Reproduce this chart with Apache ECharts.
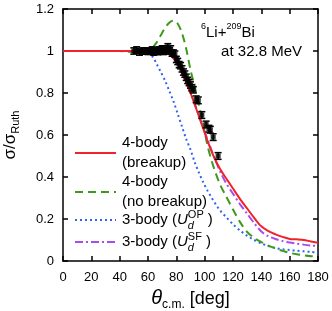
<!DOCTYPE html>
<html><head><meta charset="utf-8">
<script src="https://cdn.jsdelivr.net/npm/echarts@6/dist/echarts.min.js"></script>
<style>html,body{margin:0;padding:0;background:#fff}#c{width:332px;height:311px}</style>
</head><body><div id="c"></div>
<script>
// ---- data ----
const xTicks = [0, 20, 40, 60, 80, 100, 120, 140, 160, 180];
const yTicks = [0, 0.2, 0.4, 0.6, 0.8, 1, 1.2];
const curveAngles = [0,10,20,30,40,45,50,55,60,63,66,69,72,75,78,81,84,87,90,93,96,99,102,105,108,111,115,120,125,130,135,140,145,150,155,160,165,170,175,180];
const breakup = [1,1,1,1,1,1,1,1,1,1,1,1,0.995,0.985,0.965,0.94,0.895,0.85,0.8,0.745,0.688,0.63,0.572,0.52,0.475,0.437,0.395,0.345,0.295,0.25,0.205,0.165,0.142,0.127,0.115,0.105,0.103,0.1,0.093,0.087];
const noBreakup = [1,1,1,1,1,0.997,0.994,0.993,1,1.015,1.04,1.075,1.11,1.135,1.145,1.13,1.085,1.01,0.91,0.83,0.74,0.65,0.55,0.475,0.415,0.362,0.31,0.245,0.185,0.138,0.11,0.09,0.073,0.06,0.048,0.039,0.032,0.027,0.023,0.02];
const threeBodyOP = [1,1,1,1,1,1,1,0.998,0.99,0.975,0.94,0.9,0.86,0.81,0.76,0.7,0.64,0.58,0.53,0.47,0.42,0.375,0.335,0.3,0.268,0.24,0.21,0.175,0.145,0.12,0.1,0.084,0.071,0.062,0.056,0.052,0.049,0.046,0.043,0.04];
const threeBodySF = [1,1,1,1,1,1,1,1,1,1,1,1,0.995,0.985,0.965,0.94,0.895,0.85,0.8,0.748,0.692,0.636,0.578,0.525,0.473,0.425,0.372,0.32,0.27,0.225,0.18,0.14,0.118,0.105,0.095,0.088,0.083,0.078,0.074,0.071];
const expAngles = [50,52,54,56,58,60,62,63,64,65,66,67,68,69,70,71,72,73,74,75,76,77,78,79,80,81,82,83,84,85,86,87,88,89,90,91,92,94,95.5,98,101,103,104,106,109.5];
const expRatio = [1.0,1.005,0.995,1.0,1.0,0.998,1.0,1.005,0.995,1.0,1.0,0.997,1.005,1.0,1.01,0.998,1.005,1.01,1.02,1.0,1.01,0.99,0.99,0.985,0.96,0.95,0.935,0.93,0.915,0.9,0.89,0.875,0.86,0.85,0.838,0.825,0.815,0.77,0.765,0.695,0.65,0.63,0.625,0.59,0.5];
const expErr = [0.015,0.015,0.015,0.015,0.015,0.015,0.015,0.015,0.015,0.015,0.015,0.015,0.015,0.015,0.015,0.015,0.015,0.015,0.015,0.015,0.015,0.015,0.015,0.015,0.015,0.015,0.015,0.015,0.015,0.015,0.015,0.015,0.015,0.015,0.015,0.015,0.015,0.016,0.016,0.016,0.016,0.016,0.016,0.016,0.016];
const seriesNames = ['4-body (breakup)', '4-body (no breakup)', '3-body (U_d^OP)', '3-body (U_d^SF)'];

// ---- styles ----
const FONT = '"Liberation Sans", Arial, Helvetica, sans-serif';
const RED = '#f0222a', GREEN = '#3c9a1c', BLUE = '#2f63f2', PURPLE = '#a64cf0';
const DASH = [8, 5], DOT = [2, 3], DASHDOT = [8, 3, 2, 3];

function pairs(xs, ys) { return xs.map((x, i) => [x, ys[i]]); }

const chart = echarts.init(document.getElementById('c'), null, { renderer: 'canvas' });

const ctx = document.createElement('canvas').getContext('2d');
function tw(text, size, style) { ctx.font = (style || '') + ' ' + size + 'px ' + FONT; return ctx.measureText(text).width; }

const axisCommon = {
  axisLine: { show: true, onZero: false, lineStyle: { color: '#000', width: 1.5 } },
  axisTick: { show: true, inside: true, length: 5, lineStyle: { color: '#000', width: 1.5 } },
  splitLine: { show: false }
};

// legend built with graphic
const lgX = 122, lgFont = 15;
const lgItems = [
  { y: 153, color: RED, dash: null, lines: ['4-body', '(breakup)'] },
  { y: 192, color: GREEN, dash: DASH, lines: ['4-body', '(no breakup)'] },
  { y: 220, color: BLUE, dash: DOT, sup: 'OP' },
  { y: 242, color: PURPLE, dash: DASHDOT, sup: 'SF' }
];
const graphics = [];
lgItems.forEach(it => {
  graphics.push({ type: 'line', shape: { x1: 75, y1: it.y, x2: 116, y2: it.y },
    style: { stroke: it.color, lineWidth: 2, lineDash: it.dash }, z: 10 });
  if (it.lines) {
    graphics.push({ type: 'text', x: lgX, y: it.y - 10, z: 10,
      style: { text: it.lines[0], font: lgFont + 'px ' + FONT, fill: '#000', textVerticalAlign: 'middle' } });
    graphics.push({ type: 'text', x: lgX, y: it.y + 9.5, z: 10,
      style: { text: it.lines[1], font: lgFont + 'px ' + FONT, fill: '#000', textVerticalAlign: 'middle' } });
  } else {
    const base = '3-body (';
    let x = lgX;
    graphics.push({ type: 'text', x: x, y: it.y, z: 10,
      style: { text: base, font: lgFont + 'px ' + FONT, fill: '#000', textVerticalAlign: 'middle' } });
    x += tw(base, lgFont);
    graphics.push({ type: 'text', x: x, y: it.y, z: 10,
      style: { text: 'U', font: 'italic ' + lgFont + 'px ' + FONT, fill: '#000', textVerticalAlign: 'middle' } });
    x += tw('U', lgFont, 'italic');
    graphics.push({ type: 'text', x: x, y: it.y + 6, z: 10,
      style: { text: 'd', font: 'italic 11px ' + FONT, fill: '#000', textVerticalAlign: 'middle' } });
    graphics.push({ type: 'text', x: x, y: it.y - 5.5, z: 10,
      style: { text: it.sup, font: '11px ' + FONT, fill: '#000', textVerticalAlign: 'middle' } });
    x += tw(it.sup, 11) + 4;
    graphics.push({ type: 'text', x: x, y: it.y, z: 10,
      style: { text: ')', font: lgFont + 'px ' + FONT, fill: '#000', textVerticalAlign: 'middle' } });
  }
});
// title
graphics.push({ type: 'text', x: 201, y: 22, z: 10,
  style: { text: '{sup|6}{b|Li+}{sup|209}{b|Bi}', fill: '#000',
    rich: { b: { fontSize: 15, fontFamily: FONT, lineHeight: 18, verticalAlign: 'bottom' },
            sup: { fontSize: 9, fontFamily: FONT, lineHeight: 18, verticalAlign: 'top' } } } });
graphics.push({ type: 'text', x: 302, y: 51.5, z: 10,
  style: { text: 'at 32.8 MeV', font: '15px ' + FONT, fill: '#000', textAlign: 'right', textVerticalAlign: 'middle' } });

const option = {
  animation: false,
  backgroundColor: '#fff',
  grid: { left: 63, right: 14, top: 9, bottom: 50, containLabel: false, outerBoundsMode: 'none' },
  xAxis: [
    Object.assign({}, axisCommon, {
      type: 'value', position: 'bottom', min: xTicks[0], max: xTicks[xTicks.length - 1], interval: xTicks[1] - xTicks[0],
      axisLabel: { color: '#000', fontSize: 13, fontFamily: FONT, margin: 10 },
      name: '{t|θ}{s|c.m.}{d| [deg]}', nameLocation: 'middle', nameGap: 24,
      nameTextStyle: { rich: {
        t: { fontSize: 20, fontStyle: 'italic', fontFamily: FONT, lineHeight: 24, verticalAlign: 'middle', color: '#000' },
        s: { fontSize: 12, fontFamily: FONT, lineHeight: 12, verticalAlign: 'bottom', color: '#000' },
        d: { fontSize: 18, fontFamily: FONT, lineHeight: 24, verticalAlign: 'middle', color: '#000' } } }
    }),
    Object.assign({}, axisCommon, {
      type: 'value', position: 'top', min: xTicks[0], max: xTicks[xTicks.length - 1], interval: xTicks[1] - xTicks[0],
      axisLabel: { show: false }
    })
  ],
  yAxis: [
    Object.assign({}, axisCommon, {
      type: 'value', position: 'left', min: yTicks[0], max: yTicks[yTicks.length - 1], interval: yTicks[1] - yTicks[0],
      axisLabel: { color: '#000', fontSize: 13, fontFamily: FONT, margin: 9 },
      name: '{a|σ/σ}{s|Ruth}', nameLocation: 'middle', nameGap: 42,
      nameTextStyle: { rich: {
        a: { fontSize: 17, fontFamily: FONT, lineHeight: 22, verticalAlign: 'middle', color: '#000' },
        s: { fontSize: 11, fontFamily: FONT, lineHeight: 11, verticalAlign: 'bottom', color: '#000' } } }
    }),
    Object.assign({}, axisCommon, {
      type: 'value', position: 'right', min: yTicks[0], max: yTicks[yTicks.length - 1], interval: yTicks[1] - yTicks[0],
      axisLabel: { show: false }
    })
  ],
  series: [
    { name: seriesNames[3], type: 'line', data: pairs(curveAngles, threeBodySF), showSymbol: false, smooth: 0.3,
      lineStyle: { color: PURPLE, width: 2, type: DASHDOT }, z: 2 },
    { name: seriesNames[2], type: 'line', data: pairs(curveAngles, threeBodyOP), showSymbol: false, smooth: 0.3,
      lineStyle: { color: BLUE, width: 2, type: DOT }, z: 2 },
    { name: seriesNames[1], type: 'line', data: pairs(curveAngles, noBreakup), showSymbol: false, smooth: 0.3,
      lineStyle: { color: GREEN, width: 2, type: DASH }, z: 2 },
    { name: seriesNames[0], type: 'line', data: pairs(curveAngles, breakup), showSymbol: false, smooth: 0.3,
      lineStyle: { color: RED, width: 2 }, z: 3 },
    { name: 'exp err', type: 'custom', z: 5,
      data: expAngles.map((a, i) => [a, expRatio[i] - expErr[i], expRatio[i] + expErr[i]]),
      renderItem: function (params, api) {
        const x = api.value(0);
        const lo = api.coord([x, api.value(1)]);
        const hi = api.coord([x, api.value(2)]);
        const h = 3.5;
        const st = { stroke: '#000', lineWidth: 1.5 };
        return { type: 'group', children: [
          { type: 'line', shape: { x1: lo[0], y1: lo[1], x2: hi[0], y2: hi[1] }, style: st },
          { type: 'line', shape: { x1: lo[0] - h, y1: lo[1], x2: lo[0] + h, y2: lo[1] }, style: st },
          { type: 'line', shape: { x1: hi[0] - h, y1: hi[1], x2: hi[0] + h, y2: hi[1] }, style: st }
        ] };
      }
    },
    { name: 'exp', type: 'scatter', data: pairs(expAngles, expRatio), symbol: 'rect', symbolSize: 5,
      itemStyle: { color: '#000' }, z: 6 }
  ],
  graphic: graphics
};
chart.setOption(option);
</script></body></html>
